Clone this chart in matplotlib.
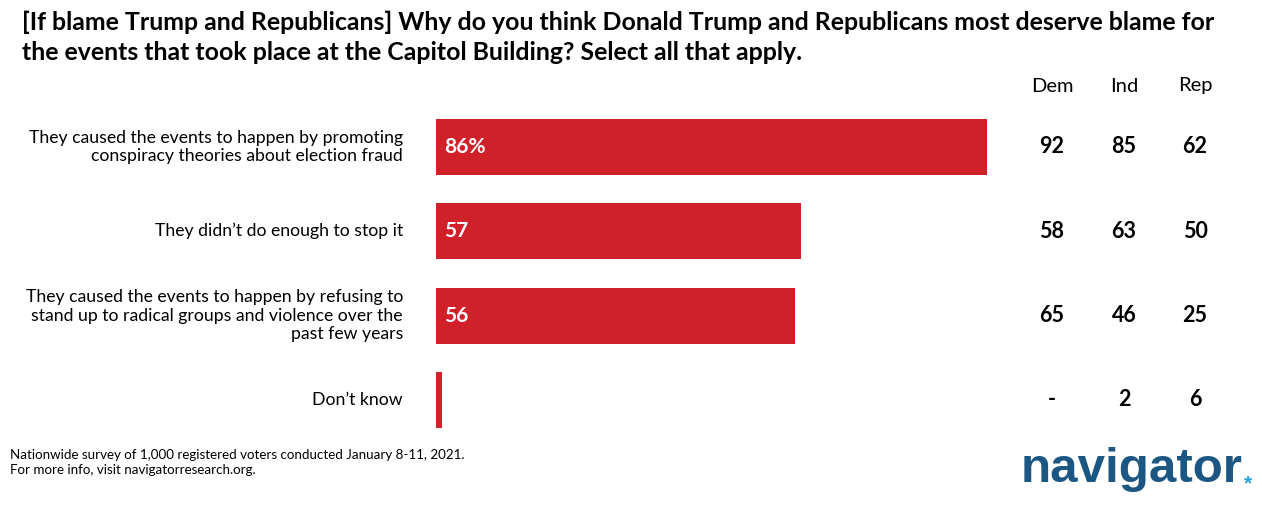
import matplotlib
matplotlib.use("Agg")
import matplotlib.pyplot as plt

W, H = 1262, 507
RED = "#d0202a"
NAVY = "#1b5782"
SKY = "#29a3dc"

categories = [
    "They caused the events to happen by promoting\nconspiracy theories about election fraud",
    "They didn\u2019t do enough to stop it",
    "They caused the events to happen by refusing to\nstand up to radical groups and violence over the\npast few years",
    "Don\u2019t know",
]
totals = [86, 57, 56, 1]
total_labels = ["86%", "57", "56", ""]
groups = ["Dem", "Ind", "Rep"]
dem = ["92", "58", "65", "-"]
ind = ["85", "63", "46", "2"]
rep = ["62", "50", "25", "6"]

SANS = ["Lato", "DejaVu Sans"]

fig = plt.figure(figsize=(W / 100, H / 100), dpi=100)


def fx(px):
    return px / W


def fy(py):
    return 1 - py / H


# bars axis: x 0..100 -> px 436..1076.7, rows at px 147..400
ax = fig.add_axes([fx(436), fy(442.2), 640.7 / W, (442.2 - 104.8) / H])
ax.set_xlim(0, 100)
ax.set_ylim(3.5, -0.5)
ax.axis("off")
ypos = list(range(len(categories)))
ax.barh(ypos, totals, height=0.66, color=RED, edgecolor="none")
for y, lab in zip(ypos, total_labels):
    ax.text(1.2, y, lab, ha="left", va="center", color="white", fontsize=15,
            family=SANS, weight="bold")

# category labels
for y, cat in zip(ypos, categories):
    py = 147 + y * 84.3
    fig.text(fx(403), fy(py), cat, ha="right", va="center", fontsize=12.7,
             family=SANS, linespacing=1.22)

# group columns
for x, g, vals in zip([1052, 1124, 1195], groups, [dem, ind, rep]):
    fig.text(fx(x), fy(86), g, ha="center", va="center", fontsize=14.5, family=SANS)
    for y, v in zip(ypos, vals):
        fig.text(fx(x), fy(147 + y * 84.3), v, ha="center", va="center",
                 fontsize=15.5, family=SANS, weight="bold")

# title
fig.text(fx(22), fy(22), "[If blame Trump and Republicans] Why do you think Donald Trump and Republicans most deserve blame for",
         ha="left", va="center", fontsize=17.9, family=SANS, weight="bold")
fig.text(fx(22), fy(52), "the events that took place at the Capitol Building? Select all that apply.",
         ha="left", va="center", fontsize=17.9, family=SANS, weight="bold")

# footer
fig.text(fx(10), fy(455), "Nationwide survey of 1,000 registered voters conducted January 8-11, 2021.",
         ha="left", va="center", fontsize=9.6, family=SANS)
fig.text(fx(10), fy(470), "For more info, visit navigatorresearch.org.",
         ha="left", va="center", fontsize=9.6, family=SANS)

# logo
fig.text(fx(1021), fy(469), "navigator", ha="left", va="center", fontsize=35.5,
         family=["Liberation Sans", "DejaVu Sans"], weight="bold", color=NAVY)
fig.text(fx(1248), fy(484), "*", ha="center", va="center", fontsize=15,
         family=["Liberation Sans", "DejaVu Sans"], weight="bold", color=SKY)

fig.savefig("out.png", dpi=100)
